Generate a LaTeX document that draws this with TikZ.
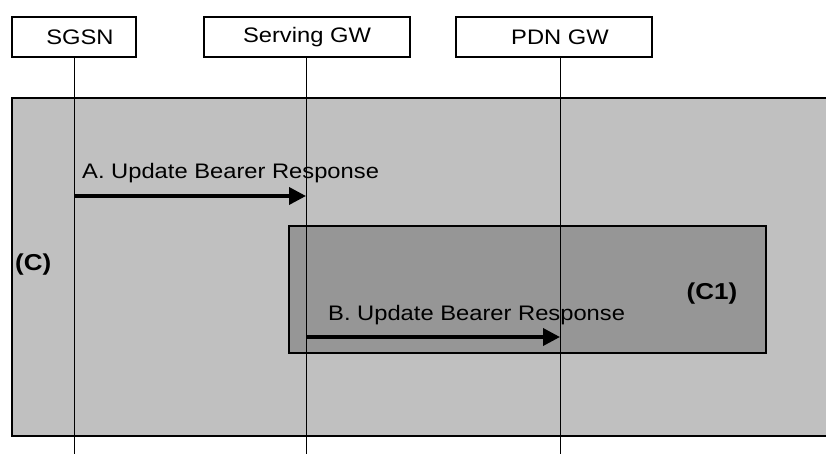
\documentclass[tikz,border=0pt]{standalone}
\usepackage{fontspec}
\setmainfont{Liberation Sans}[FakeStretch=1.13]
\usetikzlibrary{arrows.meta,positioning}

\tikzset{
  entity/.style={draw, line width=2pt, fill=white, minimum height=40pt, inner sep=0pt, font=\fontsize{21}{23}\selectfont},
  life/.style={line width=0.9pt},
  msg/.style={line width=3.6pt, -{Triangle[length=17pt,width=17pt]}},
  lbl/.style={inner sep=0pt, font=\fontsize{21}{23}\selectfont},
  region/.style={inner sep=0pt, font=\fontsize{23}{25}\selectfont\bfseries},
}

\begin{document}
\begin{tikzpicture}[x=1pt,y=-1pt]
\useasboundingbox (0,0) rectangle (826,454);

% regions
\draw[line width=1.6pt, fill={rgb,255:red,192;green,192;blue,192}] (12,98) rectangle (830,436);
\draw[line width=1.3pt, fill={rgb,255:red,150;green,150;blue,150}] (289,226) rectangle (766,353);

\node[entity, minimum width=124pt] (sgsn) at (74,37) {\hspace{12pt}SGSN};
\node[entity, minimum width=206pt] (sgw) at (307,37) {Serving GW};
\node[entity, minimum width=196pt] (pgw) at (554,37) {\hspace{12pt}PDN GW};

\coordinate (sgsnend) at (74,454);
\coordinate (sgwend) at (306,454);
\coordinate (pgwend) at (560,454);

\draw[life] (sgsn.south) -- (sgsnend);
\draw[life] (sgw.south -| sgwend) -- (sgwend);
\draw[life] (pgw.south -| pgwend) -- (pgwend);

% messages
\coordinate (a1) at (74,196);
\coordinate (a2) at (306,196);
\coordinate (b1) at (306,337);
\coordinate (b2) at (560,337);
\draw[msg] (a1) -- (a2);
\draw[msg] (b1) -- (b2);

\node[lbl, anchor=base west] (msga) at (82,179) {A. Update Bearer Response};
\node[lbl, anchor=base west] (msgb) at (328,320) {B. Update Bearer Response};
\node[region, anchor=west] (regc) at (15,265) {(C)};
\node[region] (regc1) at (712,294) {(C1)};
\end{tikzpicture}
\end{document}
